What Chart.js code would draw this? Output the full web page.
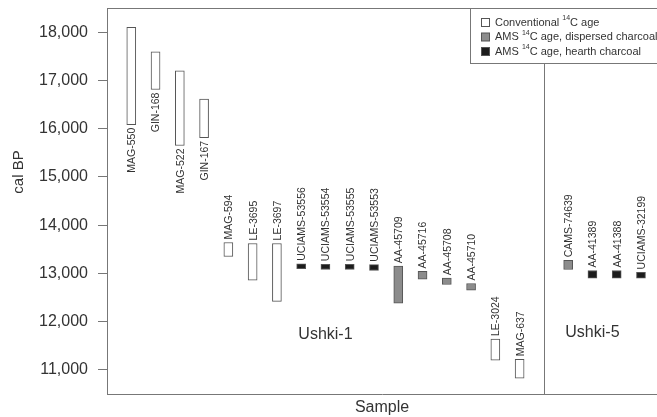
<!DOCTYPE html>
<html>
<head>
<meta charset="utf-8">
<script src="https://cdn.jsdelivr.net/npm/chart.js@4.4.1/dist/chart.umd.min.js"></script>
<style>
  html, body { margin: 0; padding: 0; background: #fff; }
  #wrap { width: 657px; height: 417px; }
</style>
</head>
<body>
<div id="wrap"><canvas id="chart-ushki" width="657" height="417"></canvas></div>
<script>
// --- DONNÉES ---
const samples = ['MAG-550', 'GIN-168', 'MAG-522', 'GIN-167', 'MAG-594', 'LE-3695', 'LE-3697',
    'UCIAMS-53556', 'UCIAMS-53554', 'UCIAMS-53555', 'UCIAMS-53553', 'AA-45709', 'AA-45716',
    'AA-45708', 'AA-45710', 'LE-3024', 'MAG-637', 'CAMS-74639', 'AA-41389', 'AA-41388', 'UCIAMS-32199'];
const slots = [1, 2, 3, 4, 5, 6, 7, 8, 9, 10, 11, 12, 13, 14, 15, 16, 17, 19, 20, 21, 22];
const kinds = ['conv', 'conv', 'conv', 'conv', 'conv', 'conv', 'conv', 'hearth', 'hearth', 'hearth', 'hearth',
    'disp', 'disp', 'disp', 'disp', 'conv', 'conv', 'disp', 'hearth', 'hearth', 'hearth'];
const ageMin = [16080, 16810, 15650, 15810, 13350, 12860, 12420, 13100, 13080, 13080, 13060,
    12380, 12880, 12770, 12650, 11200, 10830, 13080, 12900, 12900, 12900];
const ageMax = [18100, 17590, 17200, 16610, 13640, 13620, 13620, 13200, 13190, 13190, 13180,
    13150, 13040, 12900, 12790, 11640, 11220, 13270, 13060, 13060, 13020];
const labelBelow = ['MAG-550', 'GIN-168', 'MAG-522', 'GIN-167'];
const yTicks = [11000, 12000, 13000, 14000, 15000, 16000, 17000, 18000];
const sites = ['Ushki-1', 'Ushki-5'];
const siteSlot = [9, 20];
const siteAge = [11740, 11780];
const dividerSlot = 18;

const legendItems = [
    { kind: 'conv', before: 'Conventional ', after: 'C age' },
    { kind: 'disp', before: 'AMS ', after: 'C age, dispersed charcoal' },
    { kind: 'hearth', before: 'AMS ', after: 'C age, hearth charcoal' },
];

const FONT = '"Liberation Sans", Arial, Helvetica, sans-serif';
const COULEURS = { conv: '#ffffff', disp: '#8c8c8c', hearth: '#1c1c1c' };
const BORD = '#555555';

// construction d'un jeu de données par type de datation
const buildDataset = (kind) => ({
    label: kind,
    data: samples.map((s, i) => kinds[i] === kind ? { x: slots[i], y: [ageMin[i], ageMax[i]], name: s } : null)
        .filter(d => d !== null),
    backgroundColor: COULEURS[kind],
    borderColor: BORD,
    borderWidth: 1,
    borderSkipped: false,
    barThickness: 9,
    grouped: false,
});

// --- PLUGIN : étiquettes, séparateur, cadre, légende ---
const decorPlugin = {
    id: 'decor',
    afterDatasetsDraw(chart) {
        const ctx = chart.ctx;
        const area = chart.chartArea;
        const xs = chart.scales.x;
        const ys = chart.scales.y;

        ctx.save();
        // cadre du haut et séparateur entre les sites
        ctx.strokeStyle = '#777';
        ctx.lineWidth = 1;
        ctx.beginPath();
        ctx.moveTo(area.left, area.top + 0.5);
        ctx.lineTo(area.right, area.top + 0.5);
        const xd = Math.round(xs.getPixelForValue(dividerSlot)) + 0.5;
        ctx.moveTo(xd, area.top);
        ctx.lineTo(xd, area.bottom);
        ctx.stroke();

        // étiquettes des échantillons (texte vertical)
        ctx.fillStyle = '#333';
        ctx.font = '10.5px ' + FONT;
        ctx.textBaseline = 'middle';
        samples.forEach((s, i) => {
            const x = xs.getPixelForValue(slots[i]) + 1;
            ctx.save();
            if (labelBelow.includes(s)) {
                const y = ys.getPixelForValue(ageMin[i]) + 3;
                ctx.translate(x, y);
                ctx.rotate(-Math.PI / 2);
                ctx.textAlign = 'right';
            } else {
                const y = ys.getPixelForValue(ageMax[i]) - 3;
                ctx.translate(x, y);
                ctx.rotate(-Math.PI / 2);
                ctx.textAlign = 'left';
            }
            ctx.fillText(s, 0, 0);
            ctx.restore();
        });

        // noms des sites
        ctx.font = '16px ' + FONT;
        ctx.textAlign = 'center';
        sites.forEach((nom, i) => {
            ctx.fillText(nom, xs.getPixelForValue(siteSlot[i]), ys.getPixelForValue(siteAge[i]));
        });

        // titre de l'axe Y
        ctx.save();
        ctx.font = '15px ' + FONT;
        ctx.translate(19, 172);
        ctx.rotate(-Math.PI / 2);
        ctx.fillText('cal BP', 0, 0);
        ctx.restore();

        // légende (avec exposant 14)
        const lx = area.right - 187;
        const ly = area.top;
        ctx.fillStyle = '#fff';
        ctx.fillRect(lx, ly, 200, 55);
        ctx.strokeStyle = '#777';
        ctx.strokeRect(lx + 0.5, ly + 0.5, 200, 55);
        legendItems.forEach((item, i) => {
            const cy = ly + 14.5 + i * 14.5;
            ctx.fillStyle = COULEURS[item.kind];
            ctx.fillRect(lx + 11.5, cy - 4, 8, 8);
            ctx.strokeStyle = BORD;
            ctx.strokeRect(lx + 11.5, cy - 4, 8, 8);
            ctx.fillStyle = '#333';
            ctx.textAlign = 'left';
            ctx.font = '11px ' + FONT;
            let tx = lx + 25;
            ctx.fillText(item.before, tx, cy);
            tx += ctx.measureText(item.before).width;
            ctx.font = '7px ' + FONT;
            ctx.fillText('14', tx, cy - 4);
            tx += ctx.measureText('14').width;
            ctx.font = '11px ' + FONT;
            ctx.fillText(item.after, tx, cy);
        });
        ctx.restore();
    }
};

document.addEventListener('DOMContentLoaded', () => {
    const canvas = document.getElementById('chart-ushki');

    window.chartUshki = new Chart(canvas.getContext('2d'), {
        type: 'bar',
        data: {
            datasets: [buildDataset('conv'), buildDataset('disp'), buildDataset('hearth')]
        },
        options: {
            responsive: false,
            animation: false,
            layout: { padding: { top: 8, right: 0, bottom: 0, left: 0 } },
            plugins: { legend: { display: false }, tooltip: { enabled: false } },
            scales: {
                x: {
                    type: 'linear',
                    min: 0,
                    max: 22.66,
                    offset: false,
                    grid: { display: false },
                    border: { display: true, color: '#777', width: 1 },
                    ticks: { display: false },
                    title: {
                        display: true,
                        text: 'Sample',
                        color: '#333',
                        font: { family: FONT, size: 16 },
                        padding: { top: 0, bottom: 0 }
                    },
                    afterFit: (scale) => { scale.height = 23; scale.paddingLeft = 0; scale.paddingRight = 0; }
                },
                y: {
                    type: 'linear',
                    min: 10500,
                    max: 18500,
                    afterBuildTicks: (scale) => { scale.ticks = yTicks.map(v => ({ value: v })); },
                    grid: { drawOnChartArea: false, drawTicks: true, tickLength: 9, color: '#777' },
                    border: { display: true, color: '#777', width: 1 },
                    ticks: {
                        color: '#333',
                        padding: 10,
                        font: { family: FONT, size: 16 },
                        callback: (v) => v.toLocaleString('en-US')
                    },
                    afterFit: (scale) => { scale.width = 107; scale.paddingTop = 0; scale.paddingBottom = 0; }
                }
            }
        },
        plugins: [decorPlugin]
    });
});
</script>
</body>
</html>
